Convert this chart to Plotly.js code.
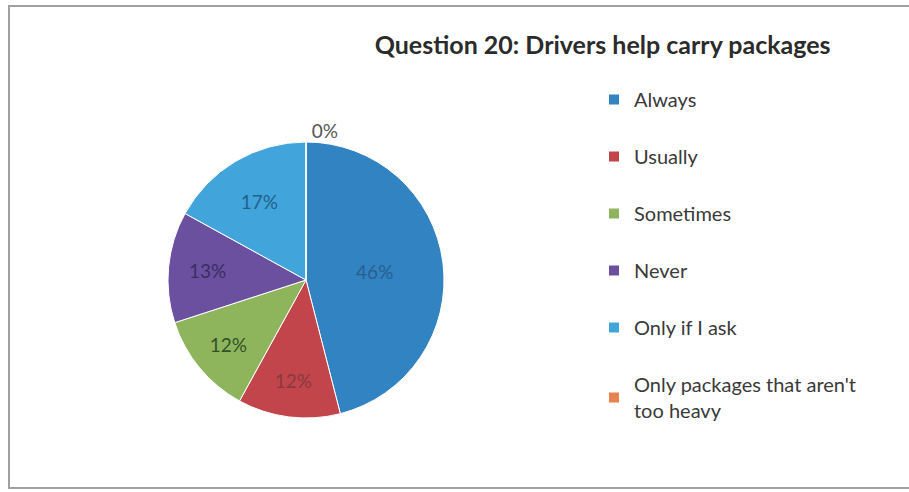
<!DOCTYPE html>
<html>
<head>
<meta charset="utf-8">
<script src="https://cdn.plot.ly/plotly-3.0.1.min.js"></script>
<style>html,body{margin:0;padding:0;background:#fff;}#chart{width:909px;height:492px;}</style>
</head>
<body>
<div id="chart"></div>
<script>
const categories = ["Always", "Usually", "Sometimes", "Never", "Only if I ask", "Only packages that aren't too heavy"];
const legendLabels = ["Always", "Usually", "Sometimes", "Never", "Only if I ask", "Only packages that aren't<br>too heavy"];
const percentages = [46, 12, 12, 13, 17, 0];
const sliceColors = ["#3183c2", "#c2454c", "#8fb55c", "#6b509f", "#41a4da", "#e9834d"];
const labelColors = ["#2a5f8e", "#873a40", "#2f5129", "#3a2e60", "#24618a", "#555555"];
const labelPositions = ["inside", "inside", "inside", "inside", "inside", "outside"];

const W = 909, H = 492;
const cx = 306, cy = 280, R = 138;

const pie = {
  type: "pie",
  labels: categories,
  values: percentages,
  sort: false,
  direction: "clockwise",
  rotation: 0,
  marker: {colors: sliceColors, line: {color: "#ffffff", width: 1}},
  texttemplate: "%{value}%",
  textinfo: "text",
  textposition: labelPositions,
  insidetextorientation: "horizontal",
  textfont: {family: "Lato, 'Open Sans', sans-serif", size: 19, color: labelColors},
  outsidetextfont: {family: "Lato, 'Open Sans', sans-serif", size: 19, color: labelColors},
  showlegend: false,
  hoverinfo: "skip",
  domain: {x: [(cx - R) / W, (cx + R) / W], y: [(H - cy - R) / H, (H - cy + R) / H]}
};

const legendTraces = legendLabels.map((name, i) => ({
  type: "scatter",
  mode: "markers",
  x: [null], y: [null],
  name: name,
  legendgroup: "g" + i,
  marker: {symbol: "square", size: 10, color: sliceColors[i]},
  hoverinfo: "skip",
  showlegend: true
}));

const layout = {
  width: W, height: H,
  margin: {l: 0, r: 0, t: 0, b: 0},
  paper_bgcolor: "#ffffff",
  plot_bgcolor: "rgba(0,0,0,0)",
  title: {
    text: "<b>Question 20: Drivers help carry packages</b>",
    font: {family: "Lato, 'Open Sans', sans-serif", size: 25, color: "#2b2b2b"},
    x: 0.663, xanchor: "center", y: 1 - 45 / H, yanchor: "middle"
  },
  xaxis: {visible: false, domain: [0.9, 0.95]},
  yaxis: {visible: false, domain: [0.9, 0.95]},
  legend: {
    x: 594 / W, xanchor: "left",
    y: 1 - 80 / H, yanchor: "top",
    traceorder: "grouped",
    tracegroupgap: 28,
    font: {family: "Lato, 'Open Sans', sans-serif", size: 20, color: "#3a3a3a"},
    itemwidth: 30,
    bgcolor: "rgba(0,0,0,0)"
  },
  shapes: [{
    type: "rect", xref: "paper", yref: "paper",
    x0: 9 / W, x1: 1.02, y0: 1 - 488 / H, y1: 1 - 6 / H,
    line: {color: "#a0a0a0", width: 2}, fillcolor: "rgba(0,0,0,0)"
  }]
};

Plotly.newPlot("chart", [pie].concat(legendTraces), layout, {displayModeBar: false, staticPlot: true});
</script>
</body>
</html>
